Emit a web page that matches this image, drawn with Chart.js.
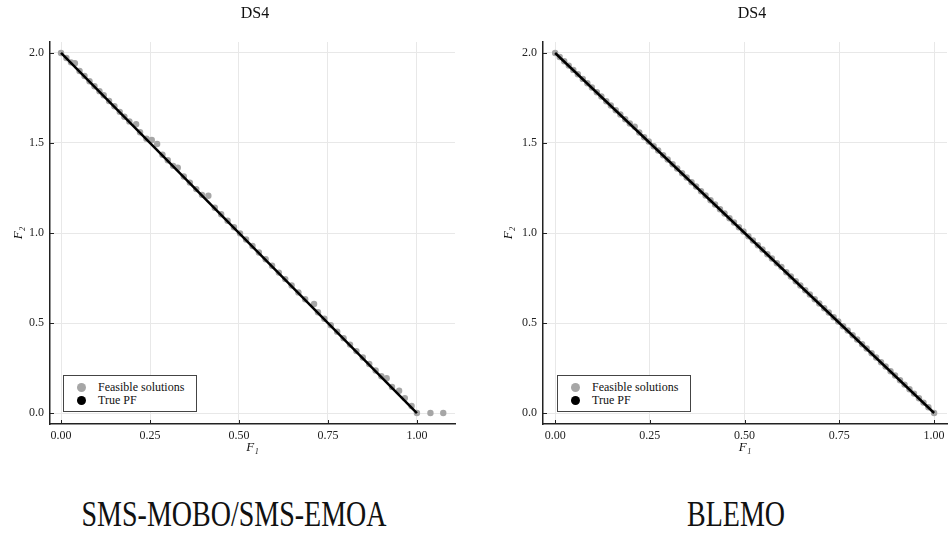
<!DOCTYPE html>
<html>
<head>
<meta charset="utf-8">
<script src="https://cdn.jsdelivr.net/npm/chart.js@4"></script>
<style>
  body { margin: 0; width: 948px; height: 535px; overflow: hidden; background: #fff; position: relative; font-family: "Liberation Serif", serif; }
  canvas { position: absolute; top: 0; }
  .legend { position: absolute; width: 132px; height: 35px; border: 1px solid #444; background: #fff; font-size: 12px; color: #111; }
  .legend div { position: relative; height: 12.6px; line-height: 12.6px; padding-left: 34px; white-space: nowrap; }
  .legend div:first-child { margin-top: 5.4px; }
  .legend span { position: absolute; left: 12.5px; top: 1.8px; width: 9px; height: 9px; border-radius: 50%; }
  .caption { position: absolute; top: 503px; font-size: 28px; line-height: 28px; text-align: center; color: #111;
             transform: scaleY(1.28); transform-origin: 50% 23.4px; }
</style>
</head>
<body>
<canvas id="left" width="510" height="470" style="left:0px"></canvas>
<canvas id="right" width="504" height="470" style="left:500px"></canvas>

<div class="legend" style="left:63px;top:375px">
  <div><span style="background:#a6a6a6"></span>Feasible solutions</div>
  <div><span style="background:#000"></span>True PF</div>
</div>
<div class="legend" style="left:557px;top:375px">
  <div><span style="background:#a6a6a6"></span>Feasible solutions</div>
  <div><span style="background:#000"></span>True PF</div>
</div>

<div class="caption" style="left:0px;width:468px">SMS-MOBO/SMS-EMOA</div>
<div class="caption" style="left:636px;width:200px">BLEMO</div>

<script>
  // 表示テキスト
  const plotTitle = 'DS4';
  const xTitle = 'F₁';
  const yTitle = 'F₂';

  // 目盛り
  const xTicks = [0, 0.25, 0.5, 0.75, 1.0];
  const xTickLabels = ['0.00', '0.25', '0.50', '0.75', '1.00'];
  const yTicks = [0, 0.5, 1.0, 1.5, 2.0];
  const yTickLabels = ['0.0', '0.5', '1.0', '1.5', '2.0'];

  // 真のパレートフロント
  const trueF1 = [0, 1];
  const trueF2 = [2, 0];

  // SMS-MOBO/SMS-EMOA の実行可能解
  const smsF1 = [0.000, 0.015, 0.028, 0.039, 0.052, 0.066, 0.080, 0.094, 0.108, 0.120,
                 0.135, 0.150, 0.165, 0.178, 0.192, 0.211, 0.222, 0.240, 0.255, 0.270,
                 0.285, 0.300, 0.315, 0.328, 0.345, 0.362, 0.380, 0.396, 0.414, 0.432,
                 0.450, 0.468, 0.486, 0.503, 0.520, 0.538, 0.556, 0.575, 0.593, 0.612,
                 0.630, 0.648, 0.667, 0.686, 0.711, 0.722, 0.740, 0.758, 0.776, 0.794,
                 0.812, 0.830, 0.848, 0.866, 0.884, 0.900, 0.915, 0.930, 0.950, 0.966,
                 0.985, 1.000, 1.038, 1.074];
  const smsF2 = [2.000, 1.972, 1.948, 1.943, 1.900, 1.872, 1.843, 1.815, 1.788, 1.765,
                 1.733, 1.704, 1.673, 1.646, 1.620, 1.604, 1.560, 1.524, 1.517, 1.494,
                 1.435, 1.404, 1.373, 1.363, 1.314, 1.280, 1.244, 1.212, 1.207, 1.140,
                 1.104, 1.068, 1.032, 0.998, 0.964, 0.928, 0.892, 0.854, 0.818, 0.780,
                 0.744, 0.708, 0.670, 0.632, 0.606, 0.560, 0.524, 0.488, 0.452, 0.416,
                 0.380, 0.344, 0.308, 0.272, 0.236, 0.204, 0.193, 0.145, 0.124, 0.083,
                 0.039, 0.000, 0.000, 0.000];

  // BLEMO の実行可能解
  const blemoF1 = [0.000, 0.012, 0.024, 0.036, 0.048, 0.060, 0.073, 0.085, 0.097, 0.110,
                   0.122, 0.135, 0.147, 0.160, 0.172, 0.185, 0.197, 0.210, 0.222, 0.235,
                   0.247, 0.260, 0.272, 0.285, 0.297, 0.310, 0.322, 0.335, 0.347, 0.360,
                   0.372, 0.385, 0.397, 0.410, 0.422, 0.435, 0.447, 0.460, 0.472, 0.485,
                   0.497, 0.510, 0.522, 0.535, 0.547, 0.560, 0.572, 0.585, 0.597, 0.610,
                   0.622, 0.635, 0.647, 0.660, 0.672, 0.685, 0.697, 0.710, 0.722, 0.735,
                   0.747, 0.760, 0.772, 0.785, 0.797, 0.810, 0.822, 0.835, 0.847, 0.860,
                   0.872, 0.885, 0.897, 0.910, 0.922, 0.935, 0.947, 0.960, 0.972, 0.985,
                   1.000];
  const blemoF2 = [2.000, 1.978, 1.954, 1.930, 1.906, 1.882, 1.856, 1.832, 1.808, 1.782,
                   1.758, 1.732, 1.708, 1.682, 1.658, 1.632, 1.608, 1.590, 1.558, 1.532,
                   1.508, 1.482, 1.458, 1.432, 1.408, 1.382, 1.358, 1.332, 1.308, 1.282,
                   1.258, 1.232, 1.208, 1.182, 1.158, 1.132, 1.108, 1.082, 1.058, 1.032,
                   1.008, 0.982, 0.958, 0.932, 0.908, 0.882, 0.858, 0.832, 0.812, 0.782,
                   0.758, 0.732, 0.708, 0.682, 0.658, 0.632, 0.608, 0.582, 0.558, 0.532,
                   0.508, 0.482, 0.458, 0.432, 0.408, 0.382, 0.358, 0.332, 0.308, 0.282,
                   0.258, 0.232, 0.208, 0.182, 0.158, 0.132, 0.108, 0.082, 0.058, 0.032,
                   0.000];

  const serif = 'Liberation Serif, DejaVu Serif, serif';
  Chart.defaults.font.family = serif;

  // 軸の内側に短い目盛り線を描く
  const innerTicks = {
    id: 'innerTicks',
    afterDraw(chart) {
      const { ctx, chartArea: a, scales: { x, y } } = chart;
      ctx.save();
      ctx.strokeStyle = '#222';
      ctx.lineWidth = 1;
      ctx.beginPath();
      xTicks.forEach(v => {
        const px = Math.round(x.getPixelForValue(v)) + 0.5;
        ctx.moveTo(px, a.bottom);
        ctx.lineTo(px, a.bottom - 4);
      });
      yTicks.forEach(v => {
        const py = Math.round(y.getPixelForValue(v)) + 0.5;
        ctx.moveTo(a.left, py);
        ctx.lineTo(a.left + 4, py);
      });
      ctx.stroke();
      ctx.restore();
    }
  };

  function pts(xs, ys) {
    return xs.map((v, i) => ({ x: v, y: ys[i] }));
  }

  function makeChart(id, f1, f2, xMin, xMax, yAxisWidth, rightGap, yTitlePad) {
    const ctx = document.getElementById(id).getContext('2d');
    return new Chart(ctx, {
      type: 'scatter',
      data: {
        datasets: [{
          label: 'Feasible solutions',
          data: pts(f1, f2),
          backgroundColor: '#a6a6a6',
          borderWidth: 0,
          pointRadius: 3.2,
          order: 2
        }, {
          label: 'True PF',
          data: pts(trueF1, trueF2),
          showLine: true,
          borderColor: '#000',
          borderWidth: 2.5,
          pointRadius: 0,
          order: 1
        }]
      },
      options: {
        responsive: false,
        animation: false,
        devicePixelRatio: 1,
        layout: { padding: 0 },
        plugins: {
          legend: { display: false },
          tooltip: { enabled: false },
          title: {
            display: true,
            text: plotTitle,
            color: '#111',
            font: { family: serif, size: 16, weight: 'normal' },
            padding: { top: 4, bottom: 18.8 }
          }
        },
        scales: {
          x: {
            type: 'linear',
            min: xMin,
            max: xMax,
            afterBuildTicks: s => { s.ticks = xTicks.map(v => ({ value: v })); },
            afterFit: s => { s.height = 46; },
            ticks: {
              callback: (v, i) => xTickLabels[i],
              color: '#222',
              font: { family: serif, size: 12 },
              padding: 5,
              maxRotation: 0
            },
            grid: { color: '#e8e8e8', lineWidth: 1, drawTicks: false },
            border: { display: true, color: '#222', width: 1.5 },
            title: {
              display: true,
              text: xTitle,
              color: '#111',
              font: { family: serif, size: 13, style: 'italic' },
              padding: { top: 0, bottom: 15 }
            }
          },
          y: {
            type: 'linear',
            min: -0.061,
            max: 2.061,
            afterBuildTicks: s => { s.ticks = yTicks.map(v => ({ value: v })); },
            afterFit: s => { s.width = yAxisWidth; },
            ticks: {
              callback: (v, i) => yTickLabels[i],
              color: '#222',
              font: { family: serif, size: 12 },
              padding: 6
            },
            grid: { color: '#e8e8e8', lineWidth: 1, drawTicks: false },
            border: { display: true, color: '#222', width: 1.5 },
            title: {
              display: true,
              text: yTitle,
              color: '#111',
              font: { family: serif, size: 13, style: 'italic' },
              padding: { top: yTitlePad, bottom: 0 }
            }
          },
          // 右側の余白用（非表示）
          gap: {
            type: 'linear',
            position: 'right',
            display: true,
            afterFit: s => { s.width = rightGap; },
            ticks: { display: false },
            grid: { display: false },
            border: { display: false }
          }
        }
      },
      plugins: [innerTicks]
    });
  }

  function drawAll() {
    makeChart('left', smsF1, smsF2, -0.031, 1.107, 50, 55, 11);
    makeChart('right', blemoF1, blemoF2, -0.032, 1.034, 43, 57, 1);
  }

  if (document.fonts && document.fonts.load) {
    document.fonts.load('12px "Liberation Serif"').then(drawAll, drawAll);
  } else {
    drawAll();
  }
</script>
</body>
</html>
